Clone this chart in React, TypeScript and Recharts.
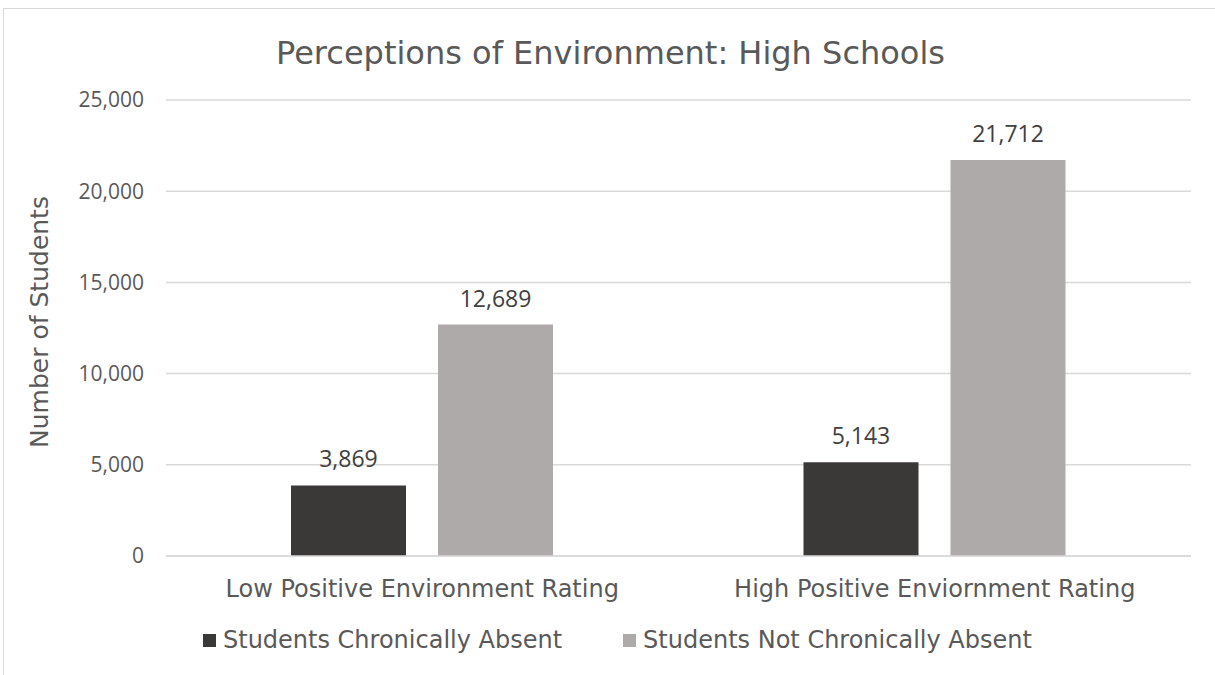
import React from 'react';
import { BarChart, Bar, XAxis, YAxis, CartesianGrid, Legend, LabelList } from 'recharts';

const categories = ['Low Positive Environment Rating', 'High Positive Enviornment Rating'];
const chronicallyAbsent = [3869, 5143];
const notChronicallyAbsent = [12689, 21712];
const yTicks = [0, 5000, 10000, 15000, 20000, 25000];

const SERIES = [
  { key: 'absent', name: 'Students Chronically Absent', color: '#3b3838' },
  { key: 'notAbsent', name: 'Students Not Chronically Absent', color: '#aeaaaa' },
];

const data = categories.map((name, i) => ({
  name,
  absent: chronicallyAbsent[i],
  notAbsent: notChronicallyAbsent[i],
}));

const SANS = '"DejaVu Sans", Verdana, sans-serif';
const NUM = '"Open Sans", "Segoe UI", sans-serif';
const fmt = (v: number) => v.toLocaleString('en-US');

function LegendRow() {
  return (
    <div style={{ display: 'flex', alignItems: 'center', height: 40, paddingLeft: 203, fontFamily: SANS, fontSize: 24, color: '#595959' }}>
      {SERIES.map((s, i) => (
        <div key={s.key} style={{ display: 'flex', alignItems: 'center', marginRight: i === 0 ? 61 : 0 }}>
          <span style={{ width: 13, height: 13, background: s.color, marginRight: 7, display: 'inline-block' }} />
          <span style={{ whiteSpace: 'nowrap' }}>{s.name}</span>
        </div>
      ))}
    </div>
  );
}

function YTitle() {
  return (
    <text x={48} y={322} transform="rotate(-90, 48, 322)" textAnchor="middle" fill="#595959" fontFamily={SANS} fontSize={25}>
      Number of Students
    </text>
  );
}

export default function App() {
  return (
    <div style={{ position: 'fixed', top: 0, left: 0, width: 1215, height: 675, overflow: 'hidden', background: '#fff' }}>
      <div style={{ position: 'absolute', left: 3, top: 8, width: 1230, height: 700, borderLeft: '1px solid #d9d9d9', borderTop: '1px solid #d9d9d9' }} />
      <div style={{ position: 'absolute', left: 3, top: 37, width: 1215, textAlign: 'center', fontFamily: SANS, fontSize: 32, lineHeight: 1, color: '#595959' }}>
        Perceptions of Environment: High Schools
      </div>
      <div style={{ position: 'absolute', left: 0, top: 0 }}>
        <BarChart width={1215} height={675} data={data} margin={{ top: 100, right: 24, left: 0, bottom: 15 }} barGap={32} barSize={115}>
          <CartesianGrid vertical={false} stroke="#d9d9d9" strokeWidth={1.5} />
          <XAxis
            dataKey="name"
            height={64}
            tickSize={0}
            tickMargin={24}
            axisLine={{ stroke: '#d9d9d9', strokeWidth: 1.5 }}
            tick={{ fill: '#595959', fontSize: 24, fontFamily: SANS }}
          />
          <YAxis
            width={166}
            domain={[0, 25000]}
            ticks={yTicks}
            tickFormatter={fmt}
            axisLine={false}
            tickSize={0}
            tickMargin={22}
            tick={{ fill: '#595959', fontSize: 21, fontFamily: NUM }}
            label={<YTitle />}
          />
          <Legend verticalAlign="bottom" wrapperStyle={{ left: 0, width: 1215, height: 40 }} content={() => <LegendRow />} />
          {SERIES.map((s) => (
            <Bar key={s.key} dataKey={s.key} name={s.name} fill={s.color} isAnimationActive={false}>
              <LabelList dataKey={s.key} position="top" offset={18} formatter={fmt} fill="#404040" fontSize={23} fontFamily={NUM} />
            </Bar>
          ))}
        </BarChart>
      </div>
    </div>
  );
}
